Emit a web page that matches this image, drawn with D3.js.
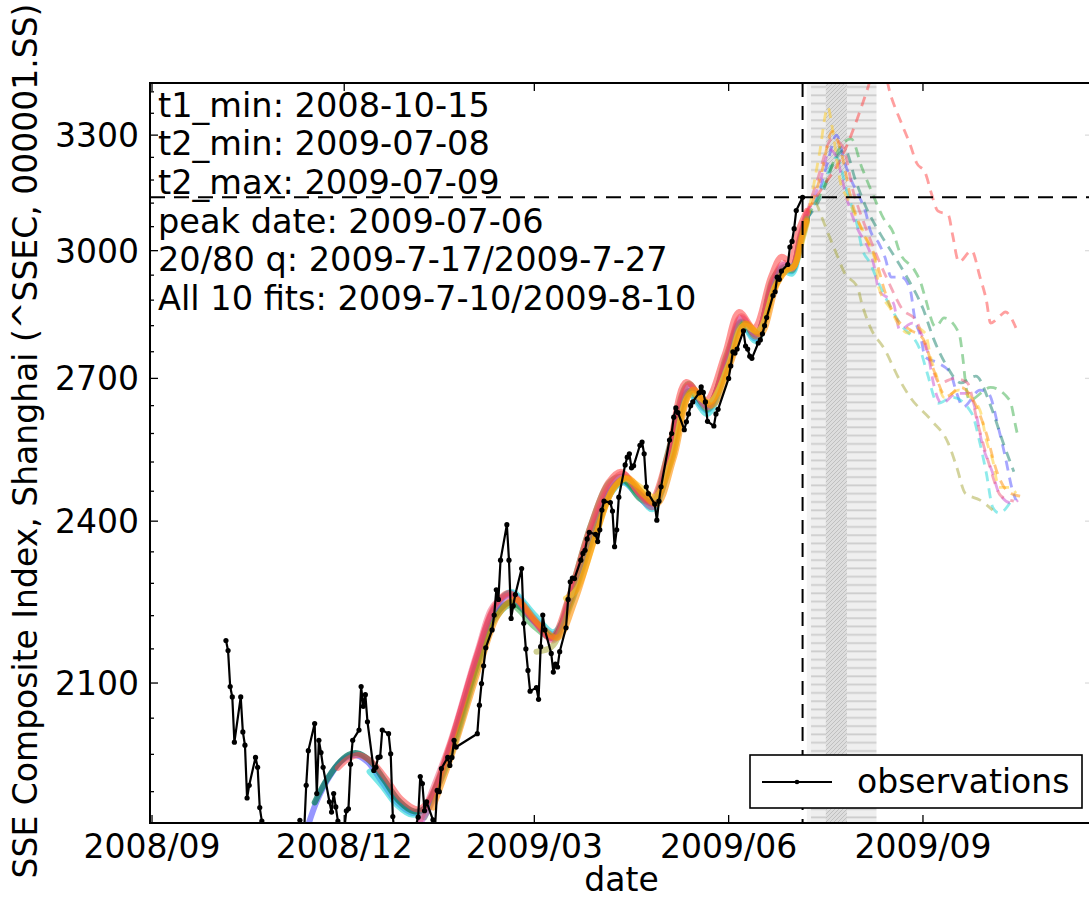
<!DOCTYPE html>
<html><head><meta charset="utf-8">
<script src="https://cdn.jsdelivr.net/npm/d3@7/dist/d3.min.js"></script>
<style>
body{margin:0;background:#fff}
svg{display:block}
text{font-family:"DejaVu Sans",sans-serif;fill:#000}
</style>
</head><body>
<svg id="chart" width="1089" height="900"></svg>
<script>
// ---------------- data ----------------
const xDomain = ["2008-08-31T01:00:00Z", "2009-11-20T12:00:00Z"];
const yDomain = [1871, 3445];
const yTicks = [2100, 2400, 2700, 3000, 3300];
const yMinorTicks = [1920,1980,2040,2160,2220,2280,2340,2460,2520,2580,2640,2760,2820,2880,2940,3060,3120,3180,3240,3360,3420];
const xTicks = ["2008-09-01", "2008-12-01", "2009-03-01", "2009-06-01", "2009-09-01"];

const peakDate = "2009-07-06";
const peakValue = 3135;
const t2Range = ["2009-07-08", "2009-07-10"];
const allFitsRange = ["2009-07-10", "2009-08-10"];
const q2080Range = ["2009-07-17", "2009-07-27"];

const annotLines = [
  "t1_min: 2008-10-15",
  "t2_min: 2009-07-08",
  "t2_max: 2009-07-09",
  "peak date: 2009-07-06",
  "20/80 q: 2009-7-17/2009-7-27",
  "All 10 fits: 2009-7-10/2009-8-10"
];

const obsDates = [
"2008-10-06","2008-10-07","2008-10-08","2008-10-09","2008-10-10","2008-10-13","2008-10-14","2008-10-15","2008-10-16","2008-10-17",
"2008-10-20","2008-10-21","2008-10-22","2008-10-23","2008-10-24","2008-10-27","2008-10-28","2008-10-29","2008-10-30","2008-10-31",
"2008-11-03","2008-11-04","2008-11-05","2008-11-06","2008-11-07","2008-11-10","2008-11-11","2008-11-12","2008-11-13","2008-11-14",
"2008-11-17","2008-11-18","2008-11-19","2008-11-20","2008-11-21","2008-11-24","2008-11-25","2008-11-26","2008-11-27","2008-11-28",
"2008-12-01","2008-12-02","2008-12-03","2008-12-04","2008-12-05","2008-12-08","2008-12-09","2008-12-10","2008-12-11","2008-12-12",
"2008-12-15","2008-12-16","2008-12-17","2008-12-18","2008-12-19","2008-12-22","2008-12-23","2008-12-24","2008-12-25","2008-12-26",
"2008-12-29","2008-12-30","2008-12-31","2009-01-05","2009-01-06","2009-01-07","2009-01-08","2009-01-09","2009-01-12","2009-01-13",
"2009-01-14","2009-01-15","2009-01-16","2009-01-19","2009-01-20","2009-01-21","2009-01-22","2009-01-23","2009-02-02","2009-02-03",
"2009-02-04","2009-02-05","2009-02-06","2009-02-09","2009-02-10","2009-02-11","2009-02-12","2009-02-13","2009-02-16","2009-02-17",
"2009-02-18","2009-02-19","2009-02-20","2009-02-23","2009-02-24","2009-02-25","2009-02-26","2009-02-27","2009-03-02","2009-03-03",
"2009-03-04","2009-03-05","2009-03-06","2009-03-09","2009-03-10","2009-03-11","2009-03-12","2009-03-13","2009-03-16","2009-03-17",
"2009-03-18","2009-03-19","2009-03-20","2009-03-23","2009-03-24","2009-03-25","2009-03-26","2009-03-27","2009-03-30","2009-03-31",
"2009-04-01","2009-04-02","2009-04-03","2009-04-06","2009-04-07","2009-04-08","2009-04-09","2009-04-10","2009-04-13","2009-04-14",
"2009-04-15","2009-04-16","2009-04-17","2009-04-20","2009-04-21","2009-04-22","2009-04-23","2009-04-24","2009-04-27","2009-04-28",
"2009-04-29","2009-04-30","2009-05-04","2009-05-05","2009-05-06","2009-05-07","2009-05-08","2009-05-11","2009-05-12","2009-05-13",
"2009-05-14","2009-05-15","2009-05-18","2009-05-19","2009-05-20","2009-05-21","2009-05-22","2009-05-25","2009-05-26","2009-05-27",
"2009-06-01","2009-06-02","2009-06-03","2009-06-04","2009-06-05","2009-06-08","2009-06-09","2009-06-10","2009-06-11","2009-06-12",
"2009-06-15","2009-06-16","2009-06-17","2009-06-18","2009-06-19","2009-06-22","2009-06-23","2009-06-24","2009-06-25","2009-06-26",
"2009-06-29","2009-06-30","2009-07-01","2009-07-02","2009-07-03","2009-07-06"
];
const obsValues = [
2175,2157,2094,2076,2000,2076,2017,1995,1910,1930,
1975,1959,1895,1874,1840,1771,1665,1763,1839,1729,
1719,1706,1763,1747,1748,1875,1827,1856,1930,1986,
2031,1917,2003,1983,1959,1904,1888,1917,1896,1874,
1860,1890,1893,1964,2003,2020,2094,2060,2080,2034,
1954,1959,1975,1976,2020,2014,1981,1881,1850,1838,
1822,1835,1821,1880,1944,1933,1890,1904,1876,1865,
1922,1920,1957,1975,1962,1975,2003,1992,2014,2062,
2099,2130,2162,2194,2221,2268,2250,2324,2393,2324,
2215,2238,2259,2308,2206,2160,2122,2086,2092,2072,
2164,2221,2194,2152,2119,2133,2128,2155,2198,2250,
2283,2290,2289,2324,2337,2343,2365,2378,2374,2360,
2383,2422,2440,2437,2420,2350,2383,2448,2514,2530,
2537,2508,2512,2555,2562,2537,2469,2455,2434,2402,
2440,2469,2566,2580,2615,2635,2625,2588,2605,2622,
2640,2648,2668,2681,2669,2648,2606,2596,2622,2632,
2700,2728,2760,2757,2766,2808,2773,2766,2750,2745,
2780,2787,2801,2820,2839,2891,2900,2935,2930,2950,
2966,3009,3023,3055,3101,3135
];

// fitted curves inside the fit window (solid)
const fitTealSolid = [["2008-11-17",1903],["2008-11-22",1935],["2008-11-28",1964],["2008-12-03",1979],["2008-12-07",1982],["2008-12-13",1970],["2008-12-20",1938],["2008-12-27",1905],["2009-01-03",1889],["2009-01-08",1893],["2009-01-20",1990],["2009-02-02",2135],["2009-02-10",2218],["2009-02-18",2245],["2009-03-01",2210],["2009-03-10",2182],["2009-03-18",2248],["2009-03-28",2370],["2009-04-06",2462],["2009-04-12",2483],["2009-04-20",2452],["2009-04-26",2436],["2009-05-04",2528],["2009-05-13",2672],["2009-05-22",2640],["2009-05-31",2740],["2009-06-07",2828],["2009-06-14",2800],["2009-06-22",2922],["2009-06-27",2958],["2009-07-01",2958],["2009-07-05",3030],["2009-07-08",3080]];
const fitBlueSolid = [["2008-11-13",1858],["2008-11-18",1905],["2008-11-24",1944],["2008-11-30",1970],["2008-12-06",1979],["2008-12-12",1968],["2008-12-19",1935],["2008-12-26",1903],["2009-01-02",1887],["2009-01-07",1891],["2009-01-20",1984],["2009-02-02",2142],["2009-02-10",2232],["2009-02-18",2262],["2009-03-01",2216],["2009-03-10",2186],["2009-03-18",2244],["2009-03-28",2365],["2009-04-06",2458],["2009-04-12",2480],["2009-04-20",2446],["2009-04-26",2428],["2009-05-04",2520],["2009-05-13",2668],["2009-05-22",2630],["2009-05-31",2730],["2009-06-07",2824],["2009-06-14",2790],["2009-06-22",2915],["2009-06-27",2955],["2009-07-01",2950],["2009-07-05",3020],["2009-07-08",3078]];
const fitRedSolid = [["2008-11-28",1958],["2008-12-03",1973],["2008-12-08",1979],["2008-12-14",1968],["2008-12-21",1940],["2008-12-28",1908],["2009-01-05",1892],["2009-01-10",1906],["2009-01-20",1995],["2009-02-02",2150],["2009-02-10",2236],["2009-02-17",2262],["2009-02-28",2215],["2009-03-09",2180],["2009-03-17",2250],["2009-03-27",2382],["2009-04-05",2478],["2009-04-11",2500],["2009-04-19",2460],["2009-04-25",2440],["2009-05-03",2532],["2009-05-12",2692],["2009-05-21",2650],["2009-05-30",2752],["2009-06-06",2852],["2009-06-13",2815],["2009-06-21",2935],["2009-06-26",2985],["2009-06-30",2975],["2009-07-04",3050],["2009-07-08",3100]];
const fitCyanSolid = [["2008-12-13",1952],["2008-12-19",1929],["2008-12-26",1899],["2009-01-02",1884],["2009-01-08",1891],["2009-01-20",1980],["2009-02-02",2136],["2009-02-10",2230],["2009-02-18",2264],["2009-03-01",2222],["2009-03-10",2190],["2009-03-18",2240],["2009-03-28",2360],["2009-04-06",2455],["2009-04-12",2478],["2009-04-20",2448],["2009-04-26",2424],["2009-05-04",2516],["2009-05-13",2666],["2009-05-22",2622],["2009-05-31",2726],["2009-06-07",2822],["2009-06-14",2784],["2009-06-22",2910],["2009-06-27",2950],["2009-07-01",2944],["2009-07-05",3015],["2009-07-08",3075]];
const fitMagentaSolid = [["2009-01-05",1866],["2009-01-12",1906],["2009-01-20",1992],["2009-02-02",2150],["2009-02-10",2232],["2009-02-18",2256],["2009-03-01",2208],["2009-03-10",2178],["2009-03-18",2252],["2009-03-28",2378],["2009-04-06",2470],["2009-04-12",2491],["2009-04-20",2455],["2009-04-26",2434],["2009-05-04",2532],["2009-05-13",2682],["2009-05-22",2640],["2009-05-31",2740],["2009-06-07",2838],["2009-06-14",2800],["2009-06-22",2925],["2009-06-27",2965],["2009-07-01",2958],["2009-07-05",3035],["2009-07-08",3092]];
const fitGreenSolid = [["2009-01-08",1880],["2009-01-20",1975],["2009-02-02",2126],["2009-02-10",2212],["2009-02-18",2240],["2009-03-01",2200],["2009-03-10",2180],["2009-03-18",2262],["2009-03-28",2395],["2009-04-06",2480],["2009-04-12",2488],["2009-04-20",2445],["2009-04-26",2440],["2009-05-04",2552],["2009-05-13",2688],["2009-05-22",2632],["2009-05-31",2752],["2009-06-07",2830],["2009-06-14",2795],["2009-06-22",2932],["2009-06-27",2960],["2009-07-01",2952],["2009-07-05",3032],["2009-07-08",3085]];
const fitOliveSolid = [["2009-03-02",2155],["2009-03-09",2163],["2009-03-14",2196],["2009-03-20",2262],["2009-03-29",2372],["2009-04-07",2462],["2009-04-13",2485],["2009-04-21",2458],["2009-04-27",2440],["2009-05-05",2524],["2009-05-14",2670],["2009-05-23",2645],["2009-06-01",2732],["2009-06-08",2825],["2009-06-15",2805],["2009-06-23",2915],["2009-06-28",2955],["2009-07-02",2962],["2009-07-05",3025],["2009-07-08",3080]];
const fitOrangeSolid = [["2009-01-12",1895],["2009-01-22",1990],["2009-02-04",2140],["2009-02-12",2222],["2009-02-20",2250],["2009-03-03",2205],["2009-03-12",2180],["2009-03-20",2245],["2009-03-30",2372],["2009-04-08",2470],["2009-04-14",2488],["2009-04-22",2452],["2009-04-28",2434],["2009-05-06",2528],["2009-05-15",2675],["2009-05-24",2640],["2009-06-02",2735],["2009-06-09",2825],["2009-06-16",2800],["2009-06-24",2920],["2009-06-29",2955],["2009-07-02",2962],["2009-07-06",3040],["2009-07-08",3075]];
const fitYellowSolid = [["2009-03-16",2252],["2009-03-21",2268],["2009-03-30",2370],["2009-04-07",2462],["2009-04-13",2486],["2009-04-21",2466],["2009-04-27",2448],["2009-05-05",2525],["2009-05-14",2665],["2009-05-23",2648],["2009-06-01",2730],["2009-06-08",2820],["2009-06-15",2808],["2009-06-23",2912],["2009-06-28",2950],["2009-07-02",2962],["2009-07-06",3030],["2009-07-08",3070]];
const fitPinkSolid = [["2009-01-06",1875],["2009-01-20",1998],["2009-02-02",2155],["2009-02-10",2240],["2009-02-18",2258],["2009-03-01",2212],["2009-03-10",2175],["2009-03-18",2256],["2009-03-28",2386],["2009-04-06",2476],["2009-04-12",2496],["2009-04-20",2452],["2009-04-26",2428],["2009-05-04",2536],["2009-05-13",2686],["2009-05-22",2636],["2009-05-31",2746],["2009-06-07",2842],["2009-06-14",2795],["2009-06-22",2928],["2009-06-27",2970],["2009-07-01",2955],["2009-07-05",3040],["2009-07-08",3095]];

// forecasts beyond the fit window (dashed)
const fitTealDash = [["2009-07-08",3080],["2009-07-15",3140],["2009-07-21",3230],["2009-07-26",3260],["2009-07-31",3180],["2009-08-05",3110],["2009-08-12",3040],["2009-08-18",2990],["2009-08-25",2930],["2009-09-01",2860],["2009-09-06",2790],["2009-09-12",2730],["2009-09-19",2690],["2009-09-26",2705],["2009-10-03",2640],["2009-10-09",2560],["2009-10-14",2500]];
const fitBlueDash = [["2009-07-08",3078],["2009-07-14",3150],["2009-07-18",3230],["2009-07-22",3300],["2009-07-26",3225],["2009-07-29",3180],["2009-08-02",3135],["2009-08-05",3094],["2009-08-07",3051],["2009-08-11",3019],["2009-08-14",2984],["2009-08-17",2935],["2009-08-22",2935],["2009-08-26",2904],["2009-08-28",2840],["2009-08-31",2793],["2009-09-02",2748],["2009-09-08",2735],["2009-09-14",2712],["2009-09-17",2667],["2009-09-20",2637],["2009-09-28",2674],["2009-10-02",2667],["2009-10-07",2587],["2009-10-10",2530],["2009-10-13",2468],["2009-10-15",2442]];
const fitRedDash = [["2009-07-08",3100],["2009-07-16",3165],["2009-07-24",3235],["2009-07-29",3300],["2009-08-03",3380],["2009-08-06",3433],["2009-08-11",3530],["2009-08-17",3405],["2009-08-22",3330],["2009-08-26",3273],["2009-08-29",3225],["2009-09-02",3200],["2009-09-05",3145],["2009-09-08",3100],["2009-09-13",3090],["2009-09-15",3040],["2009-09-18",2972],["2009-09-24",3000],["2009-09-28",2935],["2009-10-01",2880],["2009-10-03",2826],["2009-10-08",2845],["2009-10-10",2852],["2009-10-15",2815]];
const fitCyanDash = [["2009-07-08",3075],["2009-07-16",3170],["2009-07-22",3240],["2009-07-27",3150],["2009-08-01",3060],["2009-08-03",3009],["2009-08-07",2969],["2009-08-11",2921],["2009-08-21",2826],["2009-08-31",2760],["2009-09-03",2712],["2009-09-08",2645],["2009-09-15",2658],["2009-09-24",2624],["2009-09-28",2559],["2009-10-01",2497],["2009-10-04",2428],["2009-10-07",2416],["2009-10-13",2442]];
const fitMagentaDash = [["2009-07-08",3092],["2009-07-14",3170],["2009-07-19",3260],["2009-07-22",3241],["2009-07-27",3130],["2009-08-02",3044],["2009-08-05",3019],["2009-08-09",2959],["2009-08-11",2904],["2009-08-18",2873],["2009-08-21",2810],["2009-08-27",2826],["2009-08-31",2803],["2009-09-04",2741],["2009-09-05",2712],["2009-09-10",2645],["2009-09-17",2667],["2009-09-23",2667],["2009-09-25",2645],["2009-09-29",2559],["2009-10-04",2497],["2009-10-07",2456],["2009-10-13",2436],["2009-10-16",2442]];
const fitGreenDash = [["2009-07-08",3085],["2009-07-16",3160],["2009-07-24",3270],["2009-07-29",3290],["2009-08-03",3214],["2009-08-06",3172],["2009-08-10",3120],["2009-08-13",3084],["2009-08-18",3044],["2009-08-21",2996],["2009-08-28",2952],["2009-08-31",2921],["2009-09-02",2887],["2009-09-07",2817],["2009-09-11",2838],["2009-09-18",2803],["2009-09-20",2741],["2009-09-21",2696],["2009-09-23",2652],["2009-10-03",2680],["2009-10-12",2652],["2009-10-15",2593],["2009-10-16",2572]];
const fitOliveDash = [["2009-07-08",3080],["2009-07-12",3120],["2009-07-15",3085],["2009-07-18",3044],["2009-07-22",2993],["2009-07-26",2944],["2009-08-01",2911],["2009-08-03",2873],["2009-08-07",2817],["2009-08-14",2764],["2009-08-21",2696],["2009-08-26",2658],["2009-09-05",2608],["2009-09-13",2559],["2009-09-17",2509],["2009-09-21",2456],["2009-09-28",2442],["2009-10-04",2422]];
const fitOrangeDash = [["2009-07-08",3075],["2009-07-15",3200],["2009-07-20",3310],["2009-07-24",3260],["2009-07-29",3130],["2009-08-04",3040],["2009-08-09",2990],["2009-08-14",2900],["2009-08-19",2840],["2009-08-26",2810],["2009-09-01",2790],["2009-09-06",2720],["2009-09-12",2660],["2009-09-19",2680],["2009-09-25",2650],["2009-10-01",2580],["2009-10-06",2500],["2009-10-11",2460],["2009-10-17",2450]];
const fitYellowDash = [["2009-07-08",3070],["2009-07-14",3250],["2009-07-18",3377],["2009-07-20",3322],["2009-07-24",3172],["2009-07-27",3135],["2009-08-01",3077],["2009-08-07",3009],["2009-08-10",2959],["2009-08-11",2911],["2009-08-17",2856],["2009-08-20",2826],["2009-08-25",2803],["2009-08-28",2817],["2009-09-02",2803],["2009-09-05",2741],["2009-09-07",2712],["2009-09-11",2658],["2009-09-18",2674],["2009-09-21",2667],["2009-09-28",2630],["2009-10-01",2566],["2009-10-04",2524],["2009-10-07",2468],["2009-10-12",2468],["2009-10-15",2456]];
const fitPinkDash = [["2009-07-08",3095],["2009-07-13",3180],["2009-07-20",3290],["2009-07-25",3270],["2009-07-30",3150],["2009-08-04",3070],["2009-08-10",2990],["2009-08-16",2920],["2009-08-22",2860],["2009-08-29",2830],["2009-09-03",2760],["2009-09-09",2690],["2009-09-16",2700],["2009-09-22",2690],["2009-09-27",2600],["2009-10-02",2520],["2009-10-08",2450],["2009-10-14",2440]];

// ---------------- styles / assembly ----------------
const fitSolids = [fitBlueSolid, fitCyanSolid, fitTealSolid, fitGreenSolid, fitMagentaSolid, fitPinkSolid, fitRedSolid, fitOliveSolid, fitYellowSolid, fitOrangeSolid];
const fitDashes = [fitBlueDash, fitCyanDash, fitTealDash, fitGreenDash, fitMagentaDash, fitPinkDash, fitRedDash, fitOliveDash, fitYellowDash, fitOrangeDash];
const fitColors = ["#5050ff", "#20d8d8", "#13806a", "#3aae4a", "#c84ad0", "#ee5577", "#ff4040", "#a8a83a", "#ffcc22", "#ff9000"];
const fitSolidOpacity = [0.6, 0.6, 0.8, 0.55, 0.55, 0.5, 0.55, 0.55, 0.6, 0.6];

const L = 150, T = 83, R = 1093, B = 823;
const FONT = 33;
const parse = d3.utcParse("%Y-%m-%d");
const x = d3.scaleUtc().domain(xDomain.map(d => new Date(d))).range([L, R]);
const y = d3.scaleLog().domain(yDomain).range([B, T]);

const svg = d3.select("#chart");
const defs = svg.append("defs");
defs.append("clipPath").attr("id", "plotclip").append("rect")
  .attr("x", L).attr("y", T).attr("width", R - L).attr("height", B - T);

const ph = defs.append("pattern").attr("id", "hatchH").attr("patternUnits", "userSpaceOnUse")
  .attr("width", 10).attr("height", 8.3);
ph.append("rect").attr("width", 10).attr("height", 8.3).attr("fill", "#efefef");
ph.append("line").attr("x1", 0).attr("x2", 10).attr("y1", 4).attr("y2", 4)
  .attr("stroke", "#cdcdcd").attr("stroke-width", 1.8);

const pd = defs.append("pattern").attr("id", "hatchD").attr("patternUnits", "userSpaceOnUse")
  .attr("width", 4).attr("height", 4);
pd.append("rect").attr("width", 4).attr("height", 4).attr("fill", "#dddddd");
pd.append("path").attr("d", "M-1,1 l2,-2 M0,4 l4,-4 M3,5 l2,-2")
  .attr("stroke", "#c0c0c0").attr("stroke-width", 1);

const plot = svg.append("g").attr("clip-path", "url(#plotclip)");

// shaded date ranges
plot.append("rect")
  .attr("x", x(parse(t2Range[0]))).attr("y", T)
  .attr("width", x(parse(t2Range[1])) - x(parse(t2Range[0]))).attr("height", B - T)
  .attr("fill", "#f2f2f2");
plot.append("rect")
  .attr("x", x(parse(allFitsRange[0]))).attr("y", T)
  .attr("width", x(parse(allFitsRange[1])) - x(parse(allFitsRange[0]))).attr("height", B - T)
  .attr("fill", "url(#hatchH)");
plot.append("rect")
  .attr("x", x(parse(q2080Range[0]))).attr("y", T)
  .attr("width", x(parse(q2080Range[1])) - x(parse(q2080Range[0]))).attr("height", B - T)
  .attr("fill", "url(#hatchD)");

// fits
const smooth = d3.line().x(d => x(parse(d[0]))).y(d => y(d[1])).curve(d3.curveCatmullRom.alpha(0.5));
const bent = d3.line().x(d => x(parse(d[0]))).y(d => y(d[1])).curve(d3.curveMonotoneX);
const straight = d3.line().x(d => x(parse(d[0]))).y(d => y(d[1]));

fitDashes.forEach((f, i) => {
  plot.append("path").attr("d", bent(f)).attr("fill", "none")
    .attr("stroke", fitColors[i]).attr("stroke-width", 2.8).attr("stroke-opacity", 0.5)
    .attr("stroke-dasharray", "10,7");
});
fitSolids.forEach((f, i) => {
  plot.append("path").attr("d", smooth(f)).attr("fill", "none")
    .attr("stroke", fitColors[i]).attr("stroke-width", 6).attr("stroke-opacity", fitSolidOpacity[i])
    .attr("stroke-linecap", "round").attr("stroke-linejoin", "round");
});

// reference dashed lines
plot.append("line").attr("x1", L).attr("x2", R).attr("y1", y(peakValue)).attr("y2", y(peakValue))
  .attr("stroke", "#000").attr("stroke-width", 2).attr("stroke-dasharray", "15,9");
plot.append("line").attr("x1", x(parse(peakDate))).attr("x2", x(parse(peakDate))).attr("y1", T).attr("y2", B)
  .attr("stroke", "#000").attr("stroke-width", 2).attr("stroke-dasharray", "14,9");

// observations
const obs = obsDates.map((d, i) => [d, obsValues[i]]);
plot.append("path").attr("d", straight(obs)).attr("fill", "none")
  .attr("stroke", "#000").attr("stroke-width", 2.2).attr("stroke-linejoin", "round");
plot.selectAll("circle.obs").data(obs).join("circle").attr("class", "obs")
  .attr("cx", d => x(parse(d[0]))).attr("cy", d => y(d[1])).attr("r", 2.6).attr("fill", "#000");

// frame
svg.append("rect").attr("x", L).attr("y", T).attr("width", R - L).attr("height", B - T)
  .attr("fill", "none").attr("stroke", "#000").attr("stroke-width", 2);

// ticks
const tk = svg.append("g").attr("stroke", "#000").attr("stroke-width", 1.3);
yTicks.forEach(v => {
  tk.append("line").attr("x1", L).attr("x2", L + 8).attr("y1", y(v)).attr("y2", y(v));
  tk.append("line").attr("x1", R).attr("x2", R - 8).attr("y1", y(v)).attr("y2", y(v)).attr("stroke", "#ddd");
});
yMinorTicks.forEach(v => {
  tk.append("line").attr("x1", L).attr("x2", L + 4).attr("y1", y(v)).attr("y2", y(v));
  tk.append("line").attr("x1", R).attr("x2", R - 4).attr("y1", y(v)).attr("y2", y(v)).attr("stroke", "#ddd");
});
xTicks.forEach(d => {
  const xx = x(parse(d));
  tk.append("line").attr("x1", xx).attr("x2", xx).attr("y1", B).attr("y2", B - 8);
  tk.append("line").attr("x1", xx).attr("x2", xx).attr("y1", T).attr("y2", T + 8);
});

// tick labels
const fmtX = d3.utcFormat("%Y/%m");
svg.append("g").selectAll("text").data(yTicks).join("text")
  .attr("x", L - 11).attr("y", d => y(d)).attr("dy", "0.36em")
  .attr("text-anchor", "end").attr("font-size", FONT).text(d => d);
svg.append("g").selectAll("text").data(xTicks).join("text")
  .attr("x", d => x(parse(d))).attr("y", 858)
  .attr("text-anchor", "middle").attr("font-size", FONT).text(d => fmtX(parse(d)));

// axis labels
svg.append("text").attr("x", (L + R) / 2).attr("y", 891).attr("text-anchor", "middle")
  .attr("font-size", FONT).text("date");
svg.append("text").attr("transform", "translate(37,441) rotate(-90)").attr("text-anchor", "middle")
  .attr("font-size", FONT).text("SSE Composite Index, Shanghai (^SSEC, 000001.SS)");

// annotation
svg.append("g").selectAll("text").data(annotLines).join("text")
  .attr("x", 158).attr("y", (d, i) => 116.5 + i * 38.7)
  .attr("font-size", 33.6).text(d => d);

// legend
const lg = svg.append("g");
lg.append("rect").attr("x", 750).attr("y", 755).attr("width", 332).attr("height", 53)
  .attr("fill", "#fff").attr("stroke", "#000").attr("stroke-width", 1.6);
lg.append("line").attr("x1", 762).attr("x2", 832).attr("y1", 782).attr("y2", 782)
  .attr("stroke", "#000").attr("stroke-width", 2);
lg.append("circle").attr("cx", 797).attr("cy", 782).attr("r", 2.3).attr("fill", "#000");
lg.append("text").attr("x", 857).attr("y", 793).attr("font-size", FONT).text("observations");
</script>
</body></html>
